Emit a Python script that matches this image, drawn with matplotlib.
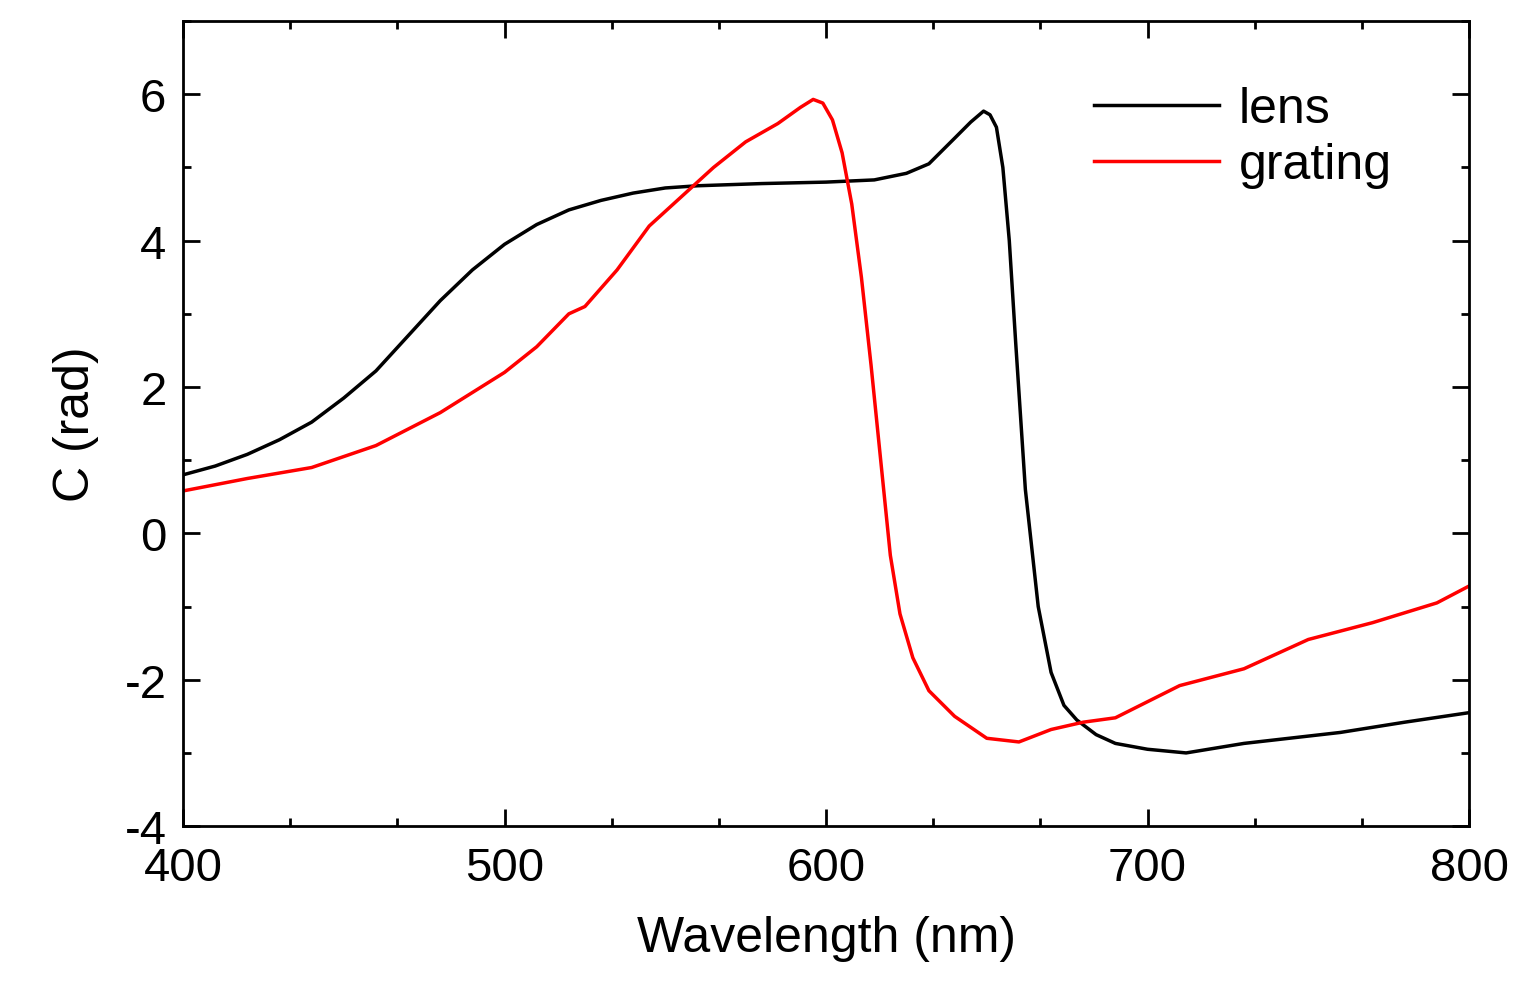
import matplotlib.pyplot as plt
from matplotlib.ticker import MultipleLocator

lens_wl = [400, 410, 420, 430, 440, 450, 460, 470, 480, 490, 500, 510, 520, 530, 540, 550, 560,
           580, 600, 615, 625, 632, 640, 645, 649, 651, 653, 655, 657, 659, 662, 666, 670, 674,
           678, 684, 690, 700, 712, 730, 760, 780, 800]
lens_c = [0.8, 0.92, 1.08, 1.28, 1.52, 1.85, 2.22, 2.7, 3.18, 3.6, 3.95, 4.22, 4.42, 4.55, 4.65,
          4.72, 4.75, 4.78, 4.8, 4.83, 4.92, 5.05, 5.4, 5.62, 5.77, 5.72, 5.55, 5.0, 4.0, 2.6, 0.6,
          -1.0, -1.9, -2.35, -2.55, -2.75, -2.87, -2.95, -3.0, -2.87, -2.72, -2.58, -2.45]

grating_wl = [400, 420, 440, 460, 480, 500, 510, 520, 525, 535, 545, 555, 565, 575, 585, 592,
              596, 599, 602, 605, 608, 611, 614, 617, 620, 623, 627, 632, 640, 650, 660, 670,
              680, 690, 700, 710, 730, 750, 770, 790, 800]
grating_c = [0.58, 0.75, 0.9, 1.2, 1.65, 2.2, 2.55, 3.0, 3.1, 3.6, 4.2, 4.6, 5.0, 5.35, 5.6, 5.82,
             5.93, 5.88, 5.65, 5.2, 4.5, 3.5, 2.3, 1.0, -0.3, -1.1, -1.7, -2.15, -2.5, -2.8, -2.85,
             -2.68, -2.58, -2.52, -2.3, -2.08, -1.85, -1.45, -1.22, -0.95, -0.72]

plt.rcParams['font.family'] = 'Liberation Sans'
plt.rcParams['axes.unicode_minus'] = False
fig = plt.figure(figsize=(15.28, 9.87), dpi=100)
ax = fig.add_axes([0.1198, 0.162, 0.8416, 0.8156])

ax.plot(lens_wl, lens_c, color='black', lw=2.5, label='lens')
ax.plot(grating_wl, grating_c, color='red', lw=2.5, label='grating')

ax.set_xlim(400, 800)
ax.set_ylim(-4, 7)
ax.xaxis.set_major_locator(MultipleLocator(100))
ax.xaxis.set_minor_locator(MultipleLocator(100 / 3))
ax.set_yticks([-4, -2, 0, 2, 4, 6])
ax.yaxis.set_minor_locator(MultipleLocator(1))
ax.tick_params(which='both', direction='in', top=True, right=True, width=2, labelsize=34)
ax.tick_params(axis='x', pad=14)
ax.tick_params(axis='y', pad=12)
ax.tick_params(which='major', length=12)
ax.tick_params(which='minor', length=6)
for s in ax.spines.values():
    s.set_linewidth(2)
ax.set_xlabel('Wavelength (nm)', fontsize=36, labelpad=18)
ax.set_ylabel('C (rad)', fontsize=36, labelpad=18)
ax.legend(loc='upper right', frameon=False, fontsize=36, handlelength=2.5,
          bbox_to_anchor=(0.975, 0.975), labelspacing=0.2, handletextpad=0.4)

fig.savefig('out.png', dpi=100)
